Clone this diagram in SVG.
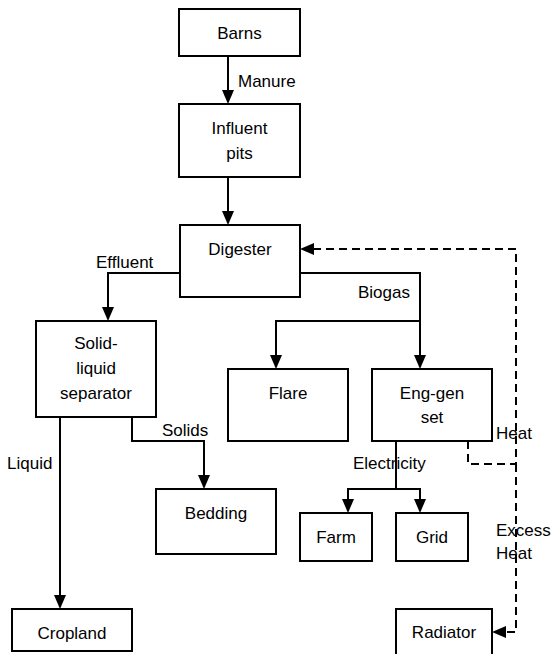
<svg xmlns="http://www.w3.org/2000/svg" width="551" height="654" viewBox="0 0 551 654">
<style>
.box{fill:#fff;stroke:#000;stroke-width:2}
.t{font-family:"Liberation Sans",Arial,sans-serif;font-size:17px;fill:#000;text-anchor:middle;dominant-baseline:central}
.l{font-family:"Liberation Sans",Arial,sans-serif;font-size:17px;fill:#000;dominant-baseline:central}
.c{fill:none;stroke:#000;stroke-width:2}
.d{fill:none;stroke:#000;stroke-width:2;stroke-dasharray:8 5}
</style>
<defs>
<marker id="ah" markerUnits="userSpaceOnUse" markerWidth="14" markerHeight="12" viewBox="0 0 14 12" refX="4" refY="6" orient="auto">
<path d="M0,0 L14,6 L0,12 z" fill="#000"/>
</marker>
</defs>
<rect width="551" height="654" fill="#fff"/>
<g id="connectors">
<path class="c" d="M228,56 V94" marker-end="url(#ah)"/>
<path class="c" d="M228,177 V215" marker-end="url(#ah)"/>
<path class="c" d="M180,273 H108 V311" marker-end="url(#ah)"/>
<path class="c" d="M300,273 H420 V359" marker-end="url(#ah)"/>
<path class="c" d="M420,321 H276 V359" marker-end="url(#ah)"/>
<path class="c" d="M132,417 V441 H204 V479" marker-end="url(#ah)"/>
<path class="c" d="M60,417 V599" marker-end="url(#ah)"/>
<path class="c" d="M396,441 V489"/>
<path class="c" d="M396,489 H348 V503" marker-end="url(#ah)"/>
<path class="c" d="M396,489 H420 V503" marker-end="url(#ah)"/>
<path class="d" d="M468,441 V464 H516 V249 H310" marker-end="url(#ah)"/>
<path class="d" d="M516,464 V632 H502" marker-end="url(#ah)"/>
</g>
<g id="barns"><rect class="box" x="179" y="9" width="121" height="47"/><text class="t" x="239.5" y="33">Barns</text></g>
<g id="influent"><rect class="box" x="179" y="104" width="121" height="73"/><text class="t" x="239.5" y="128">Influent</text><text class="t" x="239.5" y="153">pits</text></g>
<g id="digester"><rect class="box" x="180" y="225" width="120" height="72"/><text class="t" x="240" y="249">Digester</text></g>
<g id="separator"><rect class="box" x="36" y="321" width="120" height="96"/><text class="t" x="96" y="343">Solid-</text><text class="t" x="96" y="368">liquid</text><text class="t" x="96" y="393">separator</text></g>
<g id="flare"><rect class="box" x="228" y="369" width="120" height="72"/><text class="t" x="288" y="393">Flare</text></g>
<g id="enggen"><rect class="box" x="372" y="369" width="120" height="72"/><text class="t" x="432" y="393">Eng-gen</text><text class="t" x="432" y="417">set</text></g>
<g id="bedding"><rect class="box" x="156" y="489" width="120" height="65"/><text class="t" x="216" y="513">Bedding</text></g>
<g id="farm"><rect class="box" x="300" y="513" width="72" height="48"/><text class="t" x="336" y="537">Farm</text></g>
<g id="grid"><rect class="box" x="396" y="513" width="72" height="48"/><text class="t" x="432" y="537">Grid</text></g>
<g id="cropland"><rect class="box" x="12" y="609" width="120" height="42"/><text class="t" x="72" y="633">Cropland</text></g>
<g id="radiator"><rect class="box" x="396" y="609" width="96" height="60"/><text class="t" x="444" y="632">Radiator</text></g>
<g id="labels">
<text class="l" x="238" y="81">Manure</text>
<text class="l" x="96" y="262">Effluent</text>
<text class="l" x="358" y="292">Biogas</text>
<text class="l" x="162" y="430">Solids</text>
<text class="l" x="7" y="463">Liquid</text>
<text class="l" x="353" y="463">Electricity</text>
<text class="l" x="496" y="433">Heat</text>
<text class="l" x="496" y="530">Excess</text>
<text class="l" x="496" y="553">Heat</text>
</g>
</svg>
